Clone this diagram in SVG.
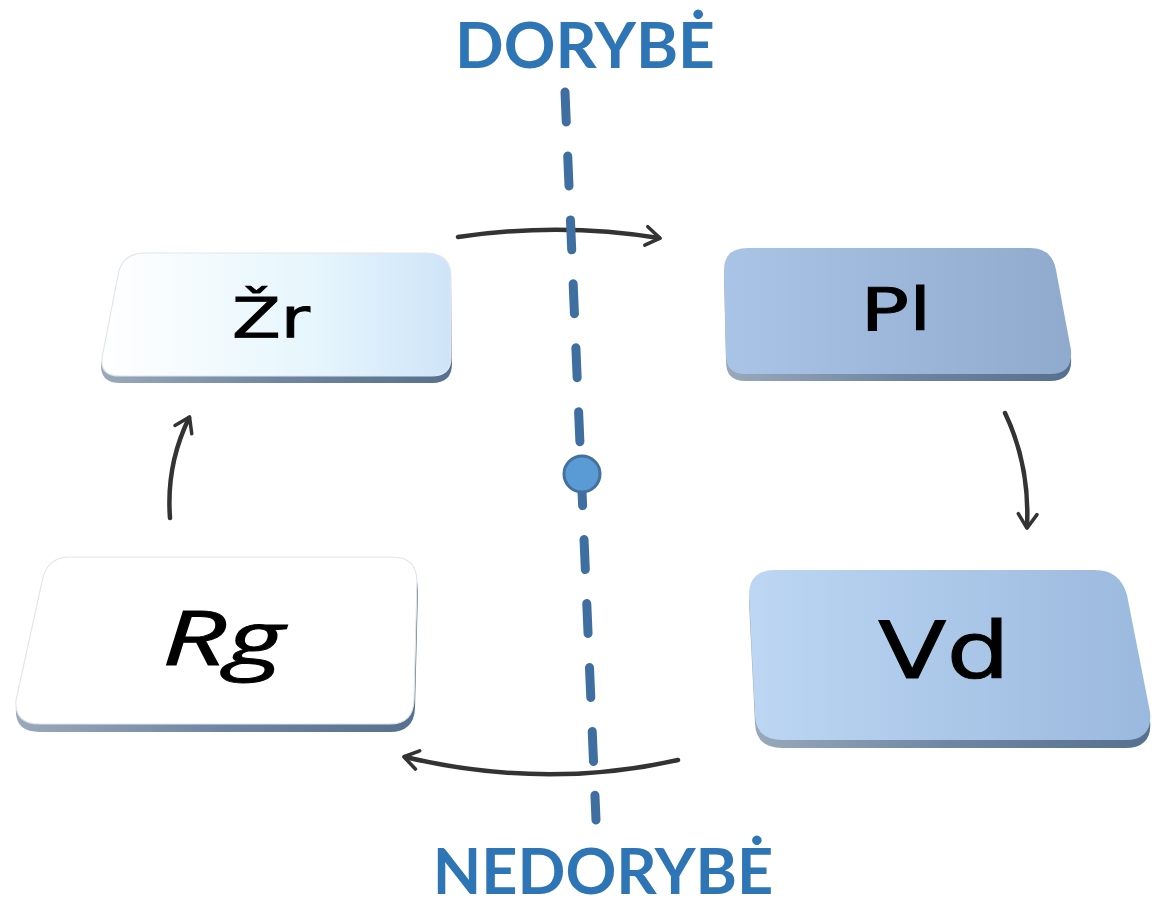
<svg xmlns="http://www.w3.org/2000/svg" width="1152" height="905" viewBox="0 0 1152 905">
<defs>
<linearGradient id="gZr" x1="0" y1="0" x2="1" y2="0"><stop offset="0" stop-color="#ffffff"/><stop offset="0.6" stop-color="#e6f6fc"/><stop offset="1" stop-color="#cfe4f8"/></linearGradient>
<linearGradient id="gPl" x1="0" y1="0" x2="1" y2="0"><stop offset="0" stop-color="#a9c4e6"/><stop offset="1" stop-color="#8faacd"/></linearGradient>
<linearGradient id="gVd" x1="0" y1="0" x2="1" y2="0"><stop offset="0" stop-color="#bcd6f3"/><stop offset="1" stop-color="#9bb9de"/></linearGradient>
<linearGradient id="gEdge" x1="0" y1="0" x2="1" y2="0"><stop offset="0" stop-color="#9aa9bb"/><stop offset="0.5" stop-color="#6f86a3"/><stop offset="1" stop-color="#56708f"/></linearGradient>
<marker id="ah" viewBox="0 0 20 20" refX="14" refY="10" markerWidth="5.2" markerHeight="5.2" orient="auto" markerUnits="strokeWidth"><path d="M3,2 L15,10 L3,18" fill="none" stroke="#333" stroke-width="3" stroke-linecap="round" stroke-linejoin="round"/></marker>
</defs>
<style>
.edge{fill:url(#gEdge)}
.lbl{font-family:"DejaVu Sans","Liberation Sans",sans-serif;fill:#000;stroke:#000;stroke-width:0.9;text-anchor:middle}
.ttl{font-family:Lato,"Open Sans",sans-serif;font-weight:bold;fill:#2E75B6;text-anchor:middle}
.arr{fill:none;stroke:#333;stroke-width:4.5;stroke-linecap:round;marker-end:url(#ah)}
.wface{stroke:#e2e6ea;stroke-width:1.2}
</style>
<rect width="1152" height="905" fill="#fff"/>
<g id="connectors">
<path class="arr" d="M458,237 Q560,222 659,238"/>
<path class="arr" d="M1005,413 Q1030,465 1027,527"/>
<path class="arr" d="M678,760 Q545,790 405,757"/>
<path class="arr" d="M170,518 Q166,465 189,418"/>
</g>
<g id="axis">
<line x1="565" y1="92" x2="596" y2="820" stroke="#3E6FA0" stroke-width="9" stroke-linecap="round" stroke-dasharray="30 34"/>
<circle cx="582" cy="474" r="18" fill="#5B9BD5" stroke="#41719C" stroke-width="3"/>
</g>
<g id="node-zr">
<path class="edge" d="M145,260 L425,260 Q450,260 451,282 L452,364 Q452,383 432,383 L120,383 Q100,383 101,364 L117,282 Q121,260 145,260 Z"/>
<path class="wface" fill="url(#gZr)" d="M145,253 L425,253 Q450,253 451,275 L451,358 Q451,376 431,376 L120,376 Q100,376 102,358 L118,275 Q122,253 145,253 Z"/>
<text class="lbl" x="271" y="337" font-size="55" textLength="78" lengthAdjust="spacingAndGlyphs">Žr</text>
</g>
<g id="node-pl">
<path class="edge" d="M748,255 L1030,255 Q1052,255 1056,277 L1071,357 Q1073,381 1050,381 L745,381 Q726,381 726,362 L724,277 Q724,255 748,255 Z"/>
<path fill="url(#gPl)" d="M748,248 L1030,248 Q1052,248 1056,270 L1071,350 Q1073,374 1050,374 L745,374 Q726,374 726,355 L724,270 Q724,248 748,248 Z"/>
<text class="lbl" x="896" y="330" font-size="59" textLength="71" lengthAdjust="spacingAndGlyphs">Pl</text>
</g>
<g id="node-rg">
<path class="edge" d="M70,565 L392,565 Q418,565 418,590 L415,708 Q414,732 390,732 L40,732 Q14,732 16,708 L42,590 Q46,565 70,565 Z"/>
<path class="wface" fill="#ffffff" d="M70,557 L392,557 Q417,557 417,582 L414,700 Q413,724 390,724 L40,724 Q14,724 16,700 L42,582 Q46,557 70,557 Z"/>
<text x="223" y="665" font-size="75" font-style="italic" text-anchor="middle" stroke="#000" stroke-width="1" textLength="122" lengthAdjust="spacingAndGlyphs" font-family="'Open Sans','Liberation Sans',sans-serif">Rg</text>
</g>
<g id="node-vd">
<path class="edge" d="M775,578 L1095,578 Q1120,578 1127,603 L1150,720 Q1153,748 1125,748 L782,748 Q756,748 755,723 L749,603 Q749,578 775,578 Z"/>
<path fill="url(#gVd)" d="M775,570 L1095,570 Q1120,570 1127,595 L1150,712 Q1153,740 1125,740 L782,740 Q756,740 755,715 L749,595 Q749,570 775,570 Z"/>
<text class="lbl" x="944" y="678" font-size="79" textLength="132" lengthAdjust="spacingAndGlyphs">Vd</text>
</g>
<g id="titles">
<text class="ttl" x="585" y="68" font-size="64">DORYBĖ</text>
<text class="ttl" x="603" y="894" font-size="63">NEDORYBĖ</text>
</g>
</svg>
